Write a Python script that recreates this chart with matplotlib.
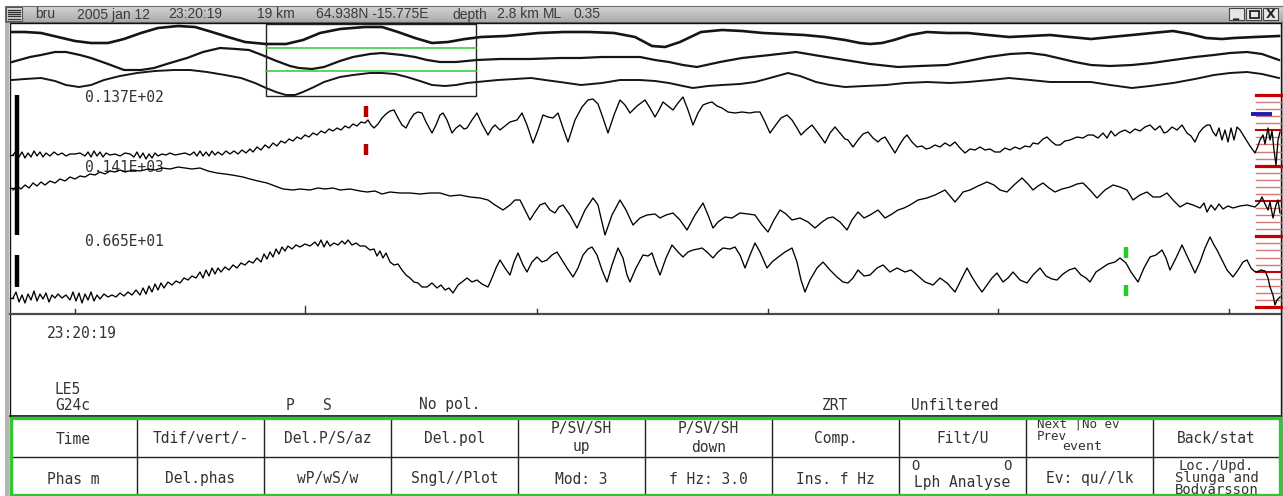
import matplotlib
matplotlib.use("Agg")
import matplotlib.pyplot as plt
import numpy as np
from matplotlib.patches import Rectangle

W, H = 1283, 496
MONO = "DejaVu Sans Mono"
INK = "#333333"

# event header shown in the title bar: (text, left x)
HEADER = [("bru", 35), ("2005 jan 12", 77), ("23:20:19", 168), ("19 km", 257),
          ("64.938N -15.775E", 316), ("depth", 452), ("2.8 km", 497),
          ("ML", 543), ("0.35", 574)]

# overview traces (sample, amplitude) for the three components
OVR_1 = [(12, 1), (25, 1), (41, 0), (58, -4), (75, -8), (91, -10), (108, -10), (124, -6),
         (141, 0), (158, 5), (178, 7), (195, 6), (212, 1), (228, -4), (245, -9), (266, -11),
         (286, -11), (303, -7), (320, 0), (340, 4), (365, 6), (382, 6), (398, 1), (415, -5),
         (432, -10), (448, -9), (465, -6), (481, -4), (506, -3), (539, 0), (564, 1), (589, 1),
         (614, 0), (635, -4), (652, -13), (665, -14), (680, -9), (701, 1), (722, 3), (742, 2),
         (763, 0), (784, -1), (804, -2), (825, -4), (845, -7), (860, -10), (870, -11),
         (882, -10), (894, -7), (910, -2), (927, 1), (947, 0), (968, 0), (988, -2), (1009, -4),
         (1030, -3), (1050, -2), (1070, -4), (1091, -6), (1111, -4), (1132, -2), (1152, 0),
         (1173, 2), (1190, -1), (1206, -5), (1222, -6), (1234, -5), (1255, -4), (1279, -3)]
OVR_2 = [(12, -4), (30, 1), (41, 3), (55, 6), (66, 6), (80, 3), (91, 0), (108, -6), (124, -12),
         (141, -12), (154, -10), (170, -5), (187, 0), (203, 6), (220, 10), (236, 9), (249, 8),
         (262, 3), (274, -2), (290, -8), (299, -10), (312, -11), (324, -9), (340, -3), (353, 1),
         (370, 4), (382, 5), (402, 3), (415, 1), (427, -2), (440, -4), (456, -4), (477, -2),
         (500, -1), (530, -1), (560, 0), (580, 0), (602, 1), (625, 1), (640, 1), (655, -2),
         (669, -4), (683, -7), (697, -9), (720, -4), (742, 0), (770, 3), (796, 6), (820, 2),
         (845, -2), (870, -6), (898, -9), (920, -8), (947, -7), (968, -3), (988, 1), (1010, 4),
         (1029, 5), (1045, 3), (1058, 0), (1075, -4), (1091, -7), (1110, -8), (1132, -7),
         (1152, -5), (1173, -2), (1195, 1), (1214, 3), (1230, 5), (1247, 6), (1262, 4), (1279, -2)]
OVR_3 = [(12, 0), (25, 1), (41, 2), (55, -1), (66, -5), (79, -7), (91, -5), (104, 0), (120, 4),
         (137, 7), (155, 9), (174, 10), (190, 10), (207, 8), (225, 5), (241, 2), (255, -3),
         (266, -8), (276, -12), (286, -15), (295, -15), (303, -12), (314, -7), (324, -2),
         (340, 3), (353, 5), (370, 7), (382, 7), (395, 6), (407, 3), (420, -1), (432, -5),
         (445, -6), (456, -5), (467, -3), (477, -2), (498, 0), (515, 1), (531, 2), (545, 0),
         (560, -2), (581, -5), (602, -3), (620, 0), (640, 0), (655, -1), (669, -3), (683, -6),
         (693, -8), (708, -6), (722, -5), (740, -4), (755, -2), (770, 2), (788, 7), (800, 4),
         (816, -2), (830, -5), (845, -7), (865, -6), (886, -5), (905, -3), (927, -2), (950, -3),
         (968, -2), (990, 0), (1009, 2), (1030, 0), (1050, -2), (1070, -2), (1091, -2),
         (1110, -5), (1132, -8), (1150, -6), (1173, -3), (1195, 1), (1214, 5), (1230, 7),
         (1247, 8), (1262, 6), (1279, 2)]

# rotated Z / R / T traces (sample, amplitude)
TRACE_Z = [(13, 0), (16, 4), (19, -2), (22, 3), (25, -3), (28, 2), (31, -2), (34, 4), (37, -1),
           (40, 3), (43, -2), (46, 2), (50, -1), (54, 3), (58, 0), (62, 2), (66, -1), (70, 1),
           (75, 1), (80, 2), (85, -1), (88, 3), (91, -2), (94, 4), (97, -1), (100, 3), (103, -2),
           (106, 2), (110, 0), (115, 1), (120, -1), (125, 2), (130, 1), (134, -2), (137, 3),
           (140, -3), (143, 2), (146, -4), (149, 1), (152, -3), (155, 2), (158, -1), (162, 1),
           (166, 0), (170, 2), (175, 0), (180, 1), (185, 2), (190, 0), (194, 3), (197, -1),
           (200, 4), (203, -1), (206, 3), (209, -1), (212, 4), (215, 0), (218, 3), (222, 0),
           (226, 4), (230, 1), (234, 4), (238, 1), (242, 5), (246, 2), (250, 6), (253, 3),
           (257, 8), (261, 5), (265, 10), (269, 7), (273, 12), (277, 9), (281, 14), (285, 12),
           (289, 16), (293, 14), (297, 18), (301, 16), (305, 20), (309, 18), (313, 22),
           (317, 20), (321, 24), (325, 22), (329, 26), (333, 24), (337, 27), (341, 25),
           (345, 29), (349, 27), (353, 31), (357, 29), (361, 33), (365, 32), (368, 35),
           (371, 30), (374, 27), (378, 31), (382, 37), (386, 41), (390, 44), (394, 45),
           (398, 37), (402, 30), (406, 27), (410, 35), (414, 41), (418, 43), (422, 42),
           (426, 33), (432, 22), (436, 30), (440, 40), (443, 42), (447, 35), (452, 22),
           (456, 27), (460, 30), (464, 26), (467, 27), (472, 35), (477, 42), (482, 31),
           (488, 20), (492, 27), (495, 30), (500, 25), (505, 29), (510, 33), (517, 35),
           (522, 42), (527, 30), (533, 12), (538, 25), (543, 40), (548, 38), (553, 37),
           (558, 42), (563, 27), (568, 13), (575, 35), (582, 48), (588, 55), (593, 56),
           (598, 51), (603, 37), (608, 22), (614, 40), (620, 55), (625, 50), (630, 42),
           (637, 49), (645, 55), (650, 47), (655, 38), (659, 45), (663, 53), (668, 49),
           (673, 45), (678, 52), (683, 58), (688, 45), (693, 30), (698, 42), (703, 50),
           (708, 52), (712, 53), (717, 49), (722, 47), (728, 43), (735, 42), (742, 43),
           (750, 42), (755, 43), (760, 43), (765, 33), (770, 22), (775, 29), (781, 37),
           (787, 40), (792, 35), (797, 27), (801, 20), (806, 25), (812, 30), (818, 22),
           (825, 12), (830, 22), (835, 28), (840, 22), (845, 16), (848, 15), (853, 8),
           (858, 15), (863, 21), (868, 23), (873, 17), (878, 13), (881, 16), (885, 18),
           (890, 10), (895, 2), (900, 11), (904, 17), (907, 20), (912, 13), (917, 8), (922, 9),
           (926, 6), (930, 7), (935, 10), (940, 8), (945, 12), (950, 9), (955, 13), (960, 7),
           (965, 2), (970, 6), (975, 5), (980, 8), (985, 5), (990, 6), (995, 3), (1000, 3),
           (1005, 7), (1010, 5), (1015, 8), (1020, 6), (1025, 9), (1030, 8), (1033, 12),
           (1038, 11), (1043, 16), (1047, 18), (1052, 13), (1056, 10), (1060, 10), (1065, 14),
           (1070, 15), (1077, 18), (1083, 17), (1088, 20), (1093, 20), (1098, 17), (1103, 22),
           (1107, 17), (1111, 24), (1115, 19), (1120, 23), (1125, 25), (1130, 22), (1135, 26),
           (1140, 24), (1145, 28), (1150, 30), (1155, 25), (1160, 29), (1164, 22), (1167, 23),
           (1172, 28), (1177, 25), (1182, 30), (1187, 22), (1191, 19), (1195, 13), (1199, 22),
           (1203, 27), (1207, 30), (1210, 30), (1213, 23), (1216, 19), (1219, 27), (1222, 15),
           (1225, 25), (1228, 13), (1231, 27), (1234, 15), (1237, 28), (1240, 25), (1245, 17),
           (1250, 9), (1255, 2), (1258, 9), (1260, 15), (1263, 20), (1265, 11), (1268, 27),
           (1270, 15), (1272, 24), (1274, 5), (1276, -10), (1278, 15), (1280, 23)]
TRACE_R = [(13, -2), (17, 2), (21, -1), (25, 3), (29, 0), (33, 5), (37, 2), (41, 6), (45, 3),
           (50, 7), (55, 5), (60, 9), (65, 7), (70, 11), (75, 9), (80, 12), (85, 11), (90, 14),
           (95, 13), (100, 16), (105, 14), (110, 17), (115, 16), (120, 18), (125, 16), (133, 18),
           (140, 17), (148, 19), (155, 18), (162, 20), (170, 19), (178, 21), (185, 20),
           (192, 19), (200, 20), (208, 17), (217, 15), (225, 14), (232, 13), (243, 11),
           (250, 9), (258, 7), (267, 5), (275, 2), (283, -1), (293, -2), (300, -1), (310, -2),
           (318, 0), (325, -1), (333, 0), (340, -2), (350, -1), (360, -3), (367, -4), (375, -3),
           (382, -6), (390, -4), (400, -5), (410, -5), (420, -6), (430, -5), (440, -5),
           (450, -8), (460, -7), (470, -9), (480, -10), (488, -12), (495, -17), (503, -22),
           (510, -17), (515, -12), (520, -12), (525, -22), (530, -32), (535, -24), (540, -17),
           (545, -15), (550, -22), (555, -25), (559, -19), (563, -17), (570, -27), (577, -40),
           (585, -22), (593, -10), (598, -17), (605, -47), (612, -27), (620, -12), (626, -22),
           (633, -37), (640, -30), (647, -27), (655, -26), (660, -30), (666, -27), (673, -25),
           (680, -32), (687, -42), (695, -27), (703, -15), (708, -27), (713, -40), (718, -34),
           (725, -29), (732, -30), (740, -25), (748, -26), (755, -27), (762, -37), (768, -44),
           (774, -32), (780, -22), (786, -26), (792, -32), (800, -30), (808, -34), (815, -40),
           (822, -34), (828, -30), (833, -29), (840, -34), (847, -42), (852, -32), (858, -24),
           (864, -30), (870, -27), (878, -22), (885, -30), (892, -26), (898, -22), (904, -20),
           (910, -17), (918, -12), (927, -10), (935, -7), (945, -2), (950, -8), (955, -14),
           (960, -8), (963, -4), (970, -2), (978, 2), (987, 6), (994, 3), (1000, -2),
           (1007, -4), (1014, 3), (1022, 10), (1028, 4), (1033, -2), (1038, 2), (1043, 5),
           (1049, 0), (1055, -4), (1062, -1), (1070, 1), (1077, 4), (1083, 5), (1090, -2),
           (1097, -10), (1105, -2), (1113, 3), (1120, 1), (1127, -2), (1133, -12), (1140, -7),
           (1147, -4), (1153, -9), (1160, -9), (1167, -5), (1173, -12), (1180, -19),
           (1187, -15), (1193, -17), (1200, -20), (1204, -15), (1207, -24), (1211, -17),
           (1215, -22), (1219, -16), (1223, -21), (1228, -18), (1233, -20), (1240, -18),
           (1247, -17), (1255, -19), (1259, -15), (1262, -9), (1265, -16), (1268, -22),
           (1270, -14), (1273, -30), (1276, -17), (1278, -12), (1280, -25)]
TRACE_T = [(13, 0), (16, 6), (19, -4), (22, 3), (25, -5), (28, 4), (31, -2), (34, 7), (37, -3),
           (40, 4), (43, -1), (46, 5), (49, -4), (52, 3), (55, 0), (58, 4), (62, 0), (66, 3),
           (70, -2), (73, 6), (76, -3), (79, 5), (82, -5), (85, 4), (88, -2), (91, 6), (94, -3),
           (97, 3), (100, -1), (104, 4), (108, 1), (112, 3), (116, 1), (120, 5), (124, 2),
           (128, 6), (132, 3), (136, 8), (140, 3), (143, 10), (146, 4), (149, 12), (152, 6),
           (155, 14), (158, 8), (161, 15), (164, 10), (168, 16), (172, 13), (176, 17),
           (180, 15), (184, 20), (188, 18), (192, 22), (196, 20), (200, 26), (203, 20),
           (206, 28), (209, 22), (212, 30), (215, 24), (218, 30), (221, 26), (225, 31),
           (229, 28), (233, 33), (237, 30), (241, 35), (245, 33), (249, 37), (253, 35),
           (257, 40), (261, 36), (264, 44), (267, 39), (270, 46), (273, 41), (276, 49),
           (279, 44), (282, 51), (285, 47), (288, 52), (292, 49), (296, 53), (300, 51),
           (305, 54), (310, 52), (315, 56), (318, 52), (321, 58), (324, 51), (327, 57),
           (330, 52), (334, 55), (338, 53), (342, 57), (345, 54), (348, 58), (352, 53),
           (356, 55), (360, 52), (365, 52), (370, 48), (374, 49), (377, 42), (380, 47),
           (383, 40), (386, 45), (390, 36), (394, 33), (398, 34), (402, 28), (406, 23),
           (410, 20), (414, 16), (418, 15), (422, 11), (427, 11), (432, 15), (437, 10),
           (441, 13), (445, 8), (449, 10), (453, 5), (458, 13), (462, 16), (467, 20), (472, 16),
           (477, 18), (482, 14), (488, 11), (492, 20), (496, 30), (500, 38), (505, 30),
           (510, 23), (514, 36), (518, 45), (523, 33), (527, 26), (532, 36), (537, 41),
           (542, 36), (547, 38), (552, 43), (557, 46), (562, 38), (567, 30), (573, 21),
           (578, 30), (583, 43), (588, 49), (592, 51), (597, 43), (602, 28), (607, 16),
           (612, 33), (618, 50), (623, 40), (627, 23), (630, 16), (636, 30), (643, 43),
           (648, 42), (652, 45), (656, 33), (660, 23), (666, 40), (672, 53), (678, 46),
           (683, 41), (688, 46), (693, 48), (698, 49), (702, 50), (707, 46), (713, 40),
           (718, 46), (723, 50), (730, 49), (735, 51), (740, 43), (745, 30), (750, 43),
           (755, 55), (760, 46), (767, 30), (772, 36), (777, 40), (785, 46), (792, 50),
           (797, 36), (801, 18), (805, 6), (810, 18), (817, 30), (823, 36), (830, 28),
           (837, 21), (843, 16), (848, 15), (853, 20), (858, 28), (864, 22), (870, 23),
           (877, 30), (883, 33), (890, 26), (897, 30), (905, 26), (911, 28), (917, 23),
           (925, 16), (933, 13), (940, 20), (947, 15), (955, 6), (960, 16), (967, 30),
           (972, 21), (977, 13), (982, 6), (987, 13), (992, 20), (997, 25), (1003, 16),
           (1008, 20), (1013, 26), (1020, 18), (1027, 15), (1033, 23), (1040, 30), (1046, 22),
           (1052, 19), (1057, 18), (1063, 24), (1069, 28), (1075, 30), (1081, 23), (1086, 20),
           (1090, 16), (1096, 26), (1102, 30), (1108, 34), (1115, 36), (1120, 40), (1126, 35),
           (1131, 26), (1138, 16), (1144, 30), (1150, 41), (1156, 43), (1162, 48), (1166, 40),
           (1170, 28), (1176, 40), (1182, 53), (1188, 40), (1195, 25), (1200, 36), (1205, 50),
           (1210, 61), (1214, 53), (1217, 48), (1222, 38), (1227, 28), (1233, 21), (1238, 28),
           (1243, 36), (1247, 38), (1251, 30), (1254, 27), (1257, 26), (1261, 28), (1265, 27),
           (1268, 20), (1270, 11), (1273, 3), (1275, -7), (1277, -2), (1280, 1)]

# channel scale labels, drawn above each trace
SCALES = ["0.137E+02", "0.141E+03", "0.665E+01"]

# phase picks: (sample, trace index)
P_PICK = (366, 0)
S_PICK = (1126, 2)

# time axis tick positions (samples) and which one is a full tick
TIME_TICKS = [75, 305, 537, 768, 998, 1229]
MAJOR_TICK = 305

# menu buttons
TOP_ROW = ["Time", "Tdif/vert/-", "Del.P/S/az", "Del.pol", "P/SV/SH\nup", "P/SV/SH\ndown",
           "Comp.", "Filt/U", None, "Back/stat"]
BOTTOM_ROW = ["Phas m", "Del.phas", "wP/wS/w", "Sngl//Plot", "Mod: 3", "f Hz: 3.0",
              "Ins. f Hz", None, "Ev: qu//lk", None]


fig = plt.figure(figsize=(W / 100, H / 100), dpi=100)
ax = fig.add_axes([0, 0, 1, 1])
ax.set_xlim(0, W)
ax.set_ylim(H, 0)
ax.axis("off")


def mono(x, y, s, ha="left", size=10.5, **kw):
    ax.text(x, y, s, ha=ha, va="center", family=MONO, fontsize=size, color=INK, **kw)


# window title bar
grad = np.linspace(0, 1, 32).reshape(-1, 1)
ax.imshow(grad, cmap=matplotlib.colors.LinearSegmentedColormap.from_list(
    "bar", ["#d4d4d4", "#ababab"]), extent=(5, W, 22, 6), aspect="auto", zorder=1)
ax.add_patch(Rectangle((5, 6), W - 5, 16, fill=False, ec="#6e6e6e", lw=0.8, zorder=2))
ax.add_patch(Rectangle((6, 7), 16, 14, fc="#e4e4e4", ec="#555555", lw=0.8, zorder=2))
for yy in np.linspace(9.5, 18.5, 5):
    ax.plot([8, 20], [yy, yy], color="#333333", lw=1.0, zorder=3)
for text, x in HEADER:
    ax.text(x, 14.5, text, ha="left", va="center", family="Liberation Sans",
            fontsize=10, color="#3a3a3a", zorder=3)
for i, glyph in enumerate(["_", "", "X"]):
    bx = 1229 + i * 17
    ax.add_patch(Rectangle((bx, 8), 15, 12, fc="#e6e6e6", ec="#444444", lw=0.8, zorder=3))
    if glyph:
        ax.text(bx + 7.5, 14, glyph, ha="center", va="center", fontsize=9,
                fontweight="bold", color="#222222", zorder=4)
ax.add_patch(Rectangle((1250, 10.5), 9, 7.5, fill=False, ec="#222222", lw=1.3, zorder=4))

# window border
ax.add_patch(Rectangle((5, 22), 4, H - 22, fc="#b5b5b5", ec="none", zorder=1))
ax.add_patch(Rectangle((1281, 22), 2, H - 22, fc="#b5b5b5", ec="none", zorder=1))
ax.plot([9.5, 9.5, 1280.5, 1280.5], [H, 22.5, 22.5, H], color="#111111", lw=1.0, zorder=2)

# overview traces with the zoom window
for trace, base, lw in zip([OVR_1, OVR_2, OVR_3], [33, 58, 80], [1.9, 1.6, 1.4]):
    t, a = np.array(trace).T
    ax.plot(t, base - a, color="#151515", lw=lw, zorder=4)
ax.add_patch(Rectangle((266, 24), 210, 72, fill=False, ec="#222222", lw=1.0, zorder=5))
for yy in (48, 71):
    ax.plot([266, 476], [yy, yy], color="#3fcf3f", lw=1.2, zorder=5)

# amplitude bars on the left
ax.plot([17, 17], [95, 235], color="black", lw=3.2, solid_capstyle="butt", zorder=4)
ax.plot([17, 17], [255, 287], color="black", lw=3.2, solid_capstyle="butt", zorder=4)

# red component grid at the right margin
for i, yy in enumerate(np.linspace(95, 307, 31)):
    if i % 10 == 0:
        ax.plot([1256, 1281], [yy, yy], color="#c40000", lw=2.3, zorder=3)
    elif i % 5 == 0:
        ax.plot([1256, 1281], [yy, yy], color="#c40000", lw=1.5, zorder=3)
    else:
        ax.plot([1256, 1281], [yy, yy], color="#d47a7a", lw=1.0, zorder=3)
ax.plot([1251, 1272], [114, 114], color="#1c1cb4", lw=2.8, solid_capstyle="butt", zorder=4)

# main traces
traces = [TRACE_Z, TRACE_R, TRACE_T]
bases = [155, 188, 298]
label_y = [98, 168, 241]
for trace, base, lab, ly in zip(traces, bases, SCALES, label_y):
    t, a = np.array(trace).T
    ax.plot(t, base - a, color="black", lw=0.95, zorder=6)
    mono(85, ly, lab, zorder=5)
    ax.plot([10, 13], [base, base], color="black", lw=1.0, zorder=6)

# phase picks, placed just above and below the trace at the pick sample
for (x, k), col in zip([P_PICK, S_PICK], ["#b20000", "#22cc22"]):
    t, a = np.array(traces[k]).T
    yy = bases[k] - np.interp(x, t, a)
    for y0, y1 in [(yy - 16, yy - 5), (yy + 22, yy + 33)]:
        ax.plot([x, x], [y0, y1], color=col, lw=3.2, solid_capstyle="butt", zorder=7)

# time axis
ax.plot([10, 1280], [313.5, 313.5], color="#4a4a4a", lw=1.6, zorder=5)
for tx in TIME_TICKS:
    ln = 7 if tx == MAJOR_TICK else 4
    ax.plot([tx, tx], [313, 313 - ln], color="#333333", lw=1.0, zorder=5)

# status lines
mono(47, 333, "23:20:19")
mono(55, 390, "LE5")
mono(55, 405, "G24c")
mono(286, 405, "P")
mono(323, 405, "S")
mono(419, 405, "No pol.")
mono(822, 405, "ZRT")
mono(911, 405, "Unfiltered")

# menu buttons
ax.plot([10, 1280], [416, 416], color="#111111", lw=1.2, zorder=5)
edges = np.linspace(10, 1280, len(TOP_ROW) + 1)
for xe in edges[1:-1]:
    ax.plot([xe, xe], [418, 494], color="#222222", lw=1.0, zorder=5)
ax.plot([10, 1280], [456.5, 456.5], color="#222222", lw=1.0, zorder=5)
ax.add_patch(Rectangle((10.5, 418), 1269, 76.5, fill=False, ec="#2fc82f", lw=2.4, zorder=6))

centres = (edges[:-1] + edges[1:]) / 2
for cx, lab in zip(centres, TOP_ROW):
    if lab is None:
        continue
    lines = lab.split("\n")
    if len(lines) == 1:
        mono(cx, 439, lab, ha="center")
    else:
        mono(cx, 428, lines[0], ha="center")
        mono(cx, 447, lines[1], ha="center")
for cx, lab in zip(centres, BOTTOM_ROW):
    if lab is not None:
        mono(cx, 479, lab, ha="center")

mono(1037, 424, "Next |No ev", size=9)
mono(1037, 436, "Prev", size=9)
mono(1062, 447, "event", size=9.5)
mono(centres[7], 466, "O          O", ha="center", size=10)
mono(centres[7], 483, "Lph Analyse", ha="center")
mono(centres[9], 466, "Loc./Upd.", ha="center", size=10)
mono(centres[9], 478, "Slunga and", ha="center", size=10)
mono(centres[9], 490, "Bodvarsson", ha="center", size=10)

fig.savefig("out.png", dpi=100, facecolor="white")
